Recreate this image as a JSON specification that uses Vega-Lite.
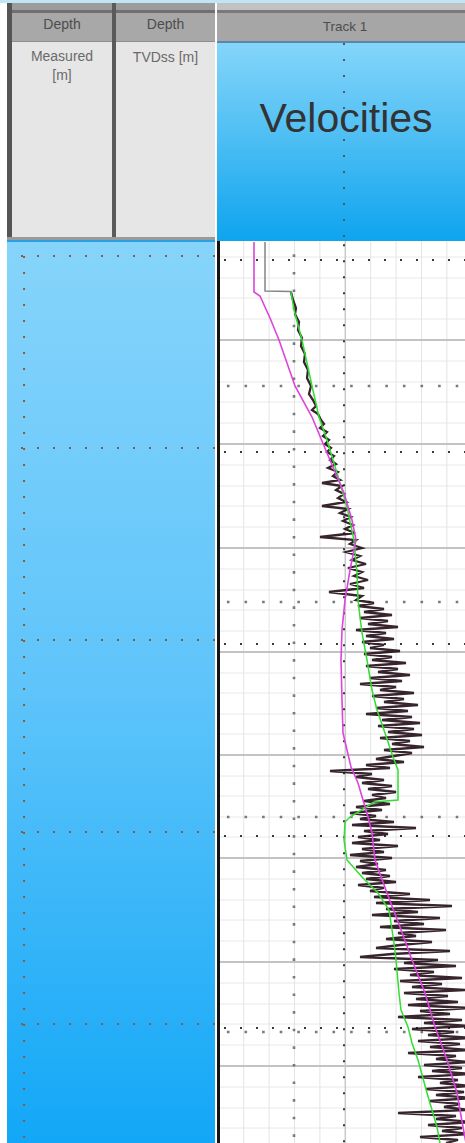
{
"$schema":"https://vega.github.io/schema/vega-lite/v6.json",
"background":"#ffffff",
"padding":0,
"spacing":0,
"config":{"view":{"stroke":null},"concat":{"spacing":0},"text":{"font":"Liberation Sans"}},
"datasets":{
"magenta":[{"v":2240,"d":1000},{"v":2240,"d":1050},{"v":2360,"d":1054},{"v":2560,"d":1076},{"v":2740,"d":1098},{"v":2900,"d":1121},{"v":3060,"d":1144},{"v":3400,"d":1175},{"v":3700,"d":1211},{"v":4040,"d":1251},{"v":4200,"d":1278},{"v":4280,"d":1298},{"v":4160,"d":1328},{"v":4060,"d":1358},{"v":4000,"d":1388},{"v":3980,"d":1418},{"v":4000,"d":1458},{"v":4020,"d":1491},{"v":4100,"d":1508},{"v":4180,"d":1525},{"v":4320,"d":1541},{"v":4420,"d":1558},{"v":4520,"d":1575},{"v":4600,"d":1591},{"v":4660,"d":1618},{"v":4900,"d":1651},{"v":5160,"d":1685},{"v":5400,"d":1718},{"v":5660,"d":1751},{"v":5860,"d":1785},{"v":6100,"d":1818},{"v":6300,"d":1851},{"v":6420,"d":1885},{"v":6480,"d":1901}],
"green":[{"v":2980,"d":1050},{"v":3040,"d":1068},{"v":3120,"d":1083},{"v":3200,"d":1098},{"v":3300,"d":1121},{"v":3400,"d":1144},{"v":3540,"d":1175},{"v":3700,"d":1198},{"v":3900,"d":1231},{"v":4100,"d":1265},{"v":4240,"d":1298},{"v":4300,"d":1331},{"v":4320,"d":1358},{"v":4360,"d":1375},{"v":4400,"d":1391},{"v":4500,"d":1418},{"v":4600,"d":1448},{"v":4700,"d":1468},{"v":4860,"d":1491},{"v":5020,"d":1515},{"v":5120,"d":1528},{"v":5120,"d":1558},{"v":4640,"d":1560},{"v":4160,"d":1575},{"v":4060,"d":1580},{"v":4040,"d":1598},{"v":4100,"d":1618},{"v":4400,"d":1635},{"v":4720,"d":1651},{"v":4940,"d":1668},{"v":5040,"d":1701},{"v":5080,"d":1718},{"v":5140,"d":1751},{"v":5180,"d":1768},{"v":5320,"d":1785},{"v":5400,"d":1801},{"v":5520,"d":1818},{"v":5700,"d":1851},{"v":5900,"d":1885},{"v":5960,"d":1901}],
"grayTop":[{"v":2460,"d":1000},{"v":2460,"d":1049},{"v":2980,"d":1049.5},{"v":2980,"d":1050}],
"black":[{"v":2980,"d":1050},{"v":3020,"d":1058},{"v":3080,"d":1066},{"v":3060,"d":1072},{"v":3140,"d":1080},{"v":3120,"d":1088},{"v":3200,"d":1096},{"v":3180,"d":1104},{"v":3260,"d":1112},{"v":3240,"d":1120},{"v":3320,"d":1128},{"v":3300,"d":1136},{"v":3380,"d":1144},{"v":3340,"d":1152},{"v":3420,"d":1158},{"v":3480,"d":1164},{"v":3400,"d":1168},{"v":3520,"d":1172},{"v":3580,"d":1178},{"v":3640,"d":1182},{"v":3560,"d":1186},{"v":3700,"d":1190},{"v":3620,"d":1194},{"v":3740,"d":1198},{"v":3660,"d":1202},{"v":3780,"d":1206},{"v":3700,"d":1210},{"v":3840,"d":1214},{"v":3760,"d":1218},{"v":3880,"d":1222},{"v":3720,"d":1226},{"v":3920,"d":1230},{"v":3820,"d":1234},{"v":3960,"d":1238},{"v":3600,"d":1241},{"v":4000,"d":1244},{"v":3880,"d":1248},{"v":4040,"d":1252},{"v":3920,"d":1256},{"v":4080,"d":1260},{"v":3600,"d":1264},{"v":4120,"d":1267},{"v":3960,"d":1271},{"v":4180,"d":1275},{"v":4020,"d":1279},{"v":4220,"d":1283},{"v":4060,"d":1287},{"v":4260,"d":1291},{"v":3560,"d":1295},{"v":4280,"d":1298},{"v":4160,"d":1302},{"v":4400,"d":1306},{"v":4080,"d":1310},{"v":4360,"d":1314},{"v":4200,"d":1318},{"v":4480,"d":1322},{"v":4120,"d":1326},{"v":4400,"d":1330},{"v":4240,"d":1334},{"v":4520,"d":1338},{"v":4160,"d":1342},{"v":4440,"d":1346},{"v":3740,"d":1350},{"v":4400,"d":1354},{"v":4280,"d":1358},{"v":4640,"d":1361},{"v":4320,"d":1364},{"v":4840,"d":1367},{"v":4440,"d":1370},{"v":5000,"d":1373},{"v":4360,"d":1376},{"v":4920,"d":1379},{"v":4520,"d":1382},{"v":5120,"d":1385},{"v":4280,"d":1388},{"v":4880,"d":1391},{"v":4480,"d":1394},{"v":5040,"d":1397},{"v":4400,"d":1400},{"v":4840,"d":1403},{"v":4560,"d":1406},{"v":5160,"d":1409},{"v":4440,"d":1412},{"v":5000,"d":1415},{"v":4600,"d":1418},{"v":5280,"d":1421},{"v":4480,"d":1424},{"v":5120,"d":1427},{"v":4720,"d":1430},{"v":5360,"d":1433},{"v":4560,"d":1436},{"v":5200,"d":1439},{"v":4360,"d":1442},{"v":5080,"d":1445},{"v":4760,"d":1448},{"v":5440,"d":1451},{"v":4600,"d":1454},{"v":5240,"d":1457},{"v":4840,"d":1460},{"v":5520,"d":1463},{"v":4680,"d":1466},{"v":5320,"d":1469},{"v":4480,"d":1472},{"v":5400,"d":1475},{"v":4800,"d":1478},{"v":5560,"d":1481},{"v":4720,"d":1484},{"v":5440,"d":1487},{"v":4920,"d":1490},{"v":5600,"d":1493},{"v":4760,"d":1496},{"v":5360,"d":1499},{"v":5000,"d":1502},{"v":5640,"d":1505},{"v":4840,"d":1508},{"v":5400,"d":1511},{"v":5040,"d":1514},{"v":4680,"d":1517},{"v":5240,"d":1520},{"v":4480,"d":1523},{"v":4960,"d":1526},{"v":3760,"d":1529},{"v":4600,"d":1532},{"v":4280,"d":1535},{"v":4840,"d":1538},{"v":4400,"d":1541},{"v":5000,"d":1544},{"v":4520,"d":1547},{"v":5080,"d":1550},{"v":4600,"d":1553},{"v":4880,"d":1556},{"v":4440,"d":1559},{"v":4960,"d":1562},{"v":4280,"d":1565},{"v":4800,"d":1568},{"v":4160,"d":1571},{"v":4680,"d":1574},{"v":4360,"d":1577},{"v":5040,"d":1580},{"v":4200,"d":1583},{"v":5480,"d":1586},{"v":4440,"d":1589},{"v":4920,"d":1592},{"v":4320,"d":1595},{"v":4760,"d":1598},{"v":4200,"d":1601},{"v":5120,"d":1604},{"v":4400,"d":1607},{"v":4840,"d":1610},{"v":4160,"d":1613},{"v":5000,"d":1616},{"v":4360,"d":1619},{"v":4720,"d":1622},{"v":4280,"d":1625},{"v":4880,"d":1628},{"v":4400,"d":1631},{"v":4960,"d":1634},{"v":4480,"d":1637},{"v":5080,"d":1640},{"v":4320,"d":1643},{"v":4840,"d":1646},{"v":4560,"d":1649},{"v":5360,"d":1652},{"v":4640,"d":1655},{"v":5760,"d":1658},{"v":4680,"d":1661},{"v":6200,"d":1664},{"v":4880,"d":1667},{"v":5520,"d":1670},{"v":4600,"d":1673},{"v":5960,"d":1676},{"v":5040,"d":1679},{"v":5640,"d":1682},{"v":4760,"d":1685},{"v":6080,"d":1688},{"v":5120,"d":1691},{"v":5480,"d":1694},{"v":4880,"d":1697},{"v":5800,"d":1700},{"v":5160,"d":1703},{"v":4680,"d":1706},{"v":6160,"d":1709},{"v":5000,"d":1712},{"v":4360,"d":1715},{"v":5920,"d":1718},{"v":5240,"d":1721},{"v":6280,"d":1724},{"v":5040,"d":1727},{"v":5840,"d":1730},{"v":5360,"d":1733},{"v":6400,"d":1736},{"v":5160,"d":1739},{"v":6000,"d":1742},{"v":5400,"d":1745},{"v":6480,"d":1748},{"v":5240,"d":1751},{"v":6120,"d":1754},{"v":5480,"d":1757},{"v":6320,"d":1760},{"v":5320,"d":1763},{"v":6560,"d":1766},{"v":5560,"d":1769},{"v":6160,"d":1772},{"v":5120,"d":1775},{"v":6400,"d":1778},{"v":5640,"d":1781},{"v":6560,"d":1784},{"v":5400,"d":1787},{"v":6240,"d":1790},{"v":5720,"d":1793},{"v":6600,"d":1796},{"v":5520,"d":1799},{"v":6360,"d":1802},{"v":5760,"d":1805},{"v":6560,"d":1808},{"v":5320,"d":1811},{"v":6280,"d":1814},{"v":5880,"d":1817},{"v":6560,"d":1820},{"v":5640,"d":1823},{"v":6400,"d":1826},{"v":5800,"d":1829},{"v":6600,"d":1832},{"v":5520,"d":1835},{"v":6320,"d":1838},{"v":5960,"d":1841},{"v":6560,"d":1844},{"v":5680,"d":1847},{"v":6440,"d":1850},{"v":5880,"d":1853},{"v":6600,"d":1856},{"v":5760,"d":1859},{"v":6360,"d":1862},{"v":6040,"d":1865},{"v":6560,"d":1868},{"v":5120,"d":1871},{"v":6280,"d":1874},{"v":5880,"d":1877},{"v":6600,"d":1880},{"v":5720,"d":1883},{"v":6400,"d":1886},{"v":6000,"d":1889},{"v":6560,"d":1892},{"v":5560,"d":1895},{"v":6320,"d":1898},{"v":6080,"d":1901}],
"hminor":[{"d":1015},{"d":1036},{"d":1056},{"d":1077},{"d":1119},{"d":1140},{"d":1160},{"d":1181},{"d":1223},{"d":1244},{"d":1264},{"d":1285},{"d":1327},{"d":1348},{"d":1368},{"d":1389},{"d":1431},{"d":1451},{"d":1472},{"d":1492},{"d":1534},{"d":1554},{"d":1575},{"d":1595},{"d":1637},{"d":1658},{"d":1678},{"d":1699},{"d":1741},{"d":1762},{"d":1782},{"d":1803},{"d":1845},{"d":1866},{"d":1886}],
"hmajor":[{"d":1098},{"d":1202},{"d":1306},{"d":1410},{"d":1513},{"d":1616},{"d":1720},{"d":1824}],
"vgrid":[{"v":2034},{"v":2542},{"v":3050},{"v":3558},{"v":4574},{"v":5082},{"v":5590},{"v":6098}],
"vmajor":[{"v":4066}],
"border":[{"v":1530}],
"dotsSmallH":[{"d":1018},{"d":1210},{"d":1402},{"d":1594},{"d":1786}],
"dotsBigH":[{"d":1144},{"d":1360},{"d":1575},{"d":1790}],
"dotsSmallV":[{"v":4040}],
"dotsBigV":[{"v":3040}],
"leftRows":[{"d":1014},{"d":1206},{"d":1398},{"d":1590},{"d":1782}]
},
"vconcat":[
{"width":465,"height":3,"view":{"fill":"#bfe5f7"},"data":{"values":[]},"mark":"point"},
{"hconcat":[
 {"width":7,"height":1140,"view":{"fill":"#ffffff"},"data":{"values":[]},"mark":"point"},
 {"vconcat":[
  {"hconcat":[
   {"width":5,"height":234,"view":{"fill":"#555555"},"data":{"values":[]},"mark":"point"},
   {"vconcat":[
    {"width":100,"height":7,"view":{"fill":"#9c9c9c"},"data":{"values":[]},"mark":"point"},
    {"width":100,"height":3,"view":{"fill":"#6f6f6f"},"data":{"values":[]},"mark":"point"},
    {"width":100,"height":28,"view":{"fill":"#a8a8a8"},"data":{"values":[{"label":"Depth"}]},"mark":{"type":"text","fontSize":14,"color":"#4d4d4d","dy":-2},"encoding":{"text":{"field":"label"}}},
    {"width":100,"height":1,"view":{"fill":"#8e8e8e"},"data":{"values":[]},"mark":"point"},
    {"width":100,"height":195,"view":{"fill":"#e6e6e6"},"data":{"values":[{"label":"Measured\n[m]"}]},"mark":{"type":"text","fontSize":14,"color":"#6a6a6a","lineBreak":"\n","lineHeight":19,"dy":-83},"encoding":{"text":{"field":"label"}}}
   ],"spacing":0},
   {"width":4,"height":234,"view":{"fill":"#5a5a5a"},"data":{"values":[]},"mark":"point"},
   {"vconcat":[
    {"width":99,"height":7,"view":{"fill":"#9c9c9c"},"data":{"values":[]},"mark":"point"},
    {"width":99,"height":3,"view":{"fill":"#6f6f6f"},"data":{"values":[]},"mark":"point"},
    {"width":99,"height":28,"view":{"fill":"#a8a8a8"},"data":{"values":[{"label":"Depth"}]},"mark":{"type":"text","fontSize":14,"color":"#4d4d4d","dy":-2},"encoding":{"text":{"field":"label"}}},
    {"width":99,"height":1,"view":{"fill":"#8e8e8e"},"data":{"values":[]},"mark":"point"},
    {"width":99,"height":195,"view":{"fill":"#e6e6e6"},"data":{"values":[{"label":"TVDss [m]"}]},"mark":{"type":"text","fontSize":14,"color":"#6a6a6a","dy":-82},"encoding":{"text":{"field":"label"}}}
   ],"spacing":0}
  ],"spacing":0},
  {"width":208,"height":3,"view":{"fill":"#9a9a9a"},"data":{"values":[]},"mark":"point"},
  {"width":208,"height":2,"view":{"fill":"#2b9fe3"},"data":{"values":[]},"mark":"point"},
  {"width":208,"height":901,"view":{"fill":{"gradient":"linear","x1":0,"y1":0,"x2":0,"y2":1,"stops":[{"offset":0,"color":"#86d4fb"},{"offset":0.5,"color":"#5ec4fa"},{"offset":1,"color":"#12a7f7"}]}},
   "layer":[
    {"data":{"name":"leftRows"},"mark":{"type":"rule","color":"#8f5a3c","strokeWidth":2,"strokeDash":[2,14],"clip":true},"encoding":{"y":{"field":"d","type":"quantitative","scale":{"domain":[1000,1901],"nice":false,"zero":false,"reverse":true},"axis":null}}},
    {"data":{"values":[{"frac":0.082}]},"mark":{"type":"rule","color":"#8f5a3c","strokeWidth":2,"strokeDash":[2,14],"strokeDashOffset":2,"clip":true},"encoding":{"x":{"field":"frac","type":"quantitative","scale":{"domain":[0,1],"nice":false,"zero":false},"axis":null}}}
   ]}
 ],"spacing":0},
 {"width":2,"height":1140,"view":{"fill":"#ffffff"},"data":{"values":[]},"mark":"point"},
 {"vconcat":[
  {"width":248,"height":7,"view":{"fill":"#c2c2c2"},"data":{"values":[]},"mark":"point"},
  {"width":248,"height":3,"view":{"fill":"#7a7a7a"},"data":{"values":[]},"mark":"point"},
  {"width":248,"height":28,"view":{"fill":"#a6a6a6"},"data":{"values":[{"label":"Track 1"}]},"mark":{"type":"text","fontSize":13.5,"color":"#4d4d4d","dx":4},"encoding":{"text":{"field":"label"}}},
  {"width":248,"height":2,"view":{"fill":"#5a86aa"},"data":{"values":[]},"mark":"point"},
  {"width":248,"height":198,"view":{"fill":{"gradient":"linear","x1":0,"y1":0,"x2":0,"y2":1,"stops":[{"offset":0,"color":"#84d5fa"},{"offset":0.5,"color":"#4bbdf3"},{"offset":1,"color":"#0ea4ee"}]}},
   "layer":[
    {"data":{"name":"dotsSmallV"},"mark":{"type":"rule","color":"#4a5a6a","strokeWidth":2,"strokeDash":[2,14],"clip":true},"encoding":{"x":{"field":"v","type":"quantitative","scale":{"domain":[1500,6460],"nice":false,"zero":false},"axis":null}}},
    {"data":{"values":[{"label":"Velocities"}]},"mark":{"type":"text","fontSize":41,"color":"#333333","dx":5,"dy":-22},"encoding":{"text":{"field":"label"}}}
   ]},
  {"width":248,"height":902,"view":{"fill":"#ffffff"},
   "layer":[
    {"data":{"name":"hminor"},"mark":{"type":"rule","color":"#e8e8e8","strokeWidth":1,"clip":true},"encoding":{"y":{"field":"d","type":"quantitative","scale":{"domain":[999,1901],"nice":false,"zero":false,"reverse":true},"axis":null}}},
    {"data":{"name":"vgrid"},"mark":{"type":"rule","color":"#e4e4e4","strokeWidth":1,"clip":true},"encoding":{"x":{"field":"v","type":"quantitative","scale":{"domain":[1500,6460],"nice":false,"zero":false},"axis":null}}},
    {"data":{"name":"hmajor"},"mark":{"type":"rule","color":"#c3c3c3","strokeWidth":2,"clip":true},"encoding":{"y":{"field":"d","type":"quantitative","axis":null}}},
    {"data":{"name":"vmajor"},"mark":{"type":"rule","color":"#c8c8c8","strokeWidth":1.5,"clip":true},"encoding":{"x":{"field":"v","type":"quantitative","axis":null}}},
    {"data":{"name":"dotsSmallH"},"mark":{"type":"rule","color":"#3a3a3a","strokeWidth":2,"strokeDash":[2,14],"strokeDashOffset":1,"clip":true},"encoding":{"y":{"field":"d","type":"quantitative","axis":null}}},
    {"data":{"name":"dotsBigH"},"mark":{"type":"rule","color":"#7a7a7a","strokeWidth":2.6,"strokeDash":[2.6,15],"strokeDashOffset":10.9,"clip":true},"encoding":{"y":{"field":"d","type":"quantitative","axis":null}}},
    {"data":{"name":"dotsSmallV"},"mark":{"type":"rule","color":"#3a3a3a","strokeWidth":2,"strokeDash":[2,14],"strokeDashOffset":12.7,"clip":true},"encoding":{"x":{"field":"v","type":"quantitative","axis":null}}},
    {"data":{"name":"dotsBigV"},"mark":{"type":"rule","color":"#7a7a7a","strokeWidth":2.6,"strokeDash":[2.6,15],"strokeDashOffset":4.3,"clip":true},"encoding":{"x":{"field":"v","type":"quantitative","axis":null}}},
    {"data":{"name":"border"},"mark":{"type":"rule","color":"#151515","strokeWidth":3,"clip":true},"encoding":{"x":{"field":"v","type":"quantitative","axis":null}}},
    {"data":{"name":"grayTop"},"mark":{"type":"line","color":"#858585","strokeWidth":1.5,"clip":true},"encoding":{"x":{"field":"v","type":"quantitative","axis":null},"y":{"field":"d","type":"quantitative","axis":null},"order":{"field":"d"}}},
    {"data":{"name":"black"},"mark":{"type":"line","color":"#220c16","strokeWidth":2.3,"opacity":0.9,"clip":true},"encoding":{"x":{"field":"v","type":"quantitative","axis":null},"y":{"field":"d","type":"quantitative","axis":null},"order":{"field":"d"}}},
    {"data":{"name":"green"},"mark":{"type":"line","color":"#33dd33","strokeWidth":1.5,"clip":true},"encoding":{"x":{"field":"v","type":"quantitative","axis":null},"y":{"field":"d","type":"quantitative","axis":null},"order":{"field":"d"}}},
    {"data":{"name":"magenta"},"mark":{"type":"line","color":"#dd44dd","strokeWidth":1.6,"clip":true},"encoding":{"x":{"field":"v","type":"quantitative","axis":null},"y":{"field":"d","type":"quantitative","axis":null},"order":{"field":"d"}}}
   ]}
 ],"spacing":0}
],"spacing":0}
]
}
